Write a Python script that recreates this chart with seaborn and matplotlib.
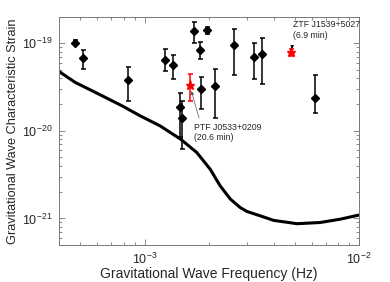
import matplotlib

matplotlib.use("Agg")
import matplotlib.pyplot as plt
import numpy as np
import pandas as pd
import seaborn as sns
from matplotlib.ticker import LogLocator, NullFormatter

# LISA-like sensitivity curve
curve_freq = [4.01e-4, 4.75e-4, 5.89e-4, 7.85e-4, 9.55e-4, 1.18e-3, 1.47e-3,
              1.75e-3, 2.02e-3, 2.25e-3, 2.51e-3, 2.79e-3, 3.0e-3, 3.58e-3,
              3.99e-3, 5.13e-3, 6.58e-3, 8.16e-3, 9.93e-3]
curve_strain = [4.72e-20, 3.57e-20, 2.75e-20, 1.93e-20, 1.48e-20, 1.14e-20,
                8.04e-21, 5.66e-21, 3.65e-21, 2.35e-21, 1.66e-21, 1.33e-21,
                1.2e-21, 1.04e-21, 9.5e-22, 8.7e-22, 8.98e-22, 9.8e-22,
                1.09e-21]

# known binaries (black diamonds)
src_freq = [4.74e-4, 5.17e-4, 8.40e-4, 1.25e-3, 1.36e-3, 1.46e-3, 1.49e-3,
            1.69e-3, 1.95e-3, 1.82e-3, 1.84e-3, 2.13e-3, 2.62e-3, 3.24e-3,
            3.53e-3, 6.24e-3]
src_strain = [1.02e-19, 6.82e-20, 3.83e-20, 6.43e-20, 5.68e-20, 1.85e-20,
              1.42e-20, 1.39e-19, 1.42e-19, 8.48e-20, 3.0e-20, 3.27e-20,
              9.46e-20, 6.95e-20, 7.46e-20, 2.37e-20]
src_hi = [1.08e-19, 8.43e-20, 5.38e-20, 8.59e-20, 7.39e-20, 2.67e-20,
          2.18e-20, 1.76e-19, 1.52e-19, 1.04e-19, 4.14e-20, 5.07e-20,
          1.45e-19, 1.0e-19, 1.15e-19, 4.34e-20]
src_lo = [9.7e-20, 5.07e-20, 2.17e-20, 4.85e-20, 3.90e-20, 8.47e-21,
          6.18e-21, 1.02e-19, 1.27e-19, 6.59e-20, 1.77e-20, 1.42e-20,
          4.37e-20, 3.90e-20, 3.42e-20, 1.62e-20]

# new eclipsing binaries (red)
new_names = ["PTF J0533+0209\n(20.6 min)", "ZTF J1539+5027\n(6.9 min)"]
new_freq = [1.62e-3, 4.82e-3]
new_strain = [3.33e-20, 7.87e-20]
new_hi = [4.48e-20, 8.59e-20]
new_lo = [2.20e-20, 7.2e-20]

x_major = [1e-3, 1e-2]
y_major = [1e-21, 1e-20, 1e-19]

sns.set_style("ticks")
plt.rcParams["font.family"] = ["Liberation Sans", "DejaVu Sans"]
plt.rcParams["mathtext.fontset"] = "custom"
plt.rcParams["mathtext.rm"] = "Liberation Sans"
plt.rcParams["mathtext.it"] = "Liberation Sans:italic"

fig, ax = plt.subplots(figsize=(3.9, 2.82), dpi=100)
fig.subplots_adjust(left=0.152, right=0.921, bottom=0.132, top=0.940)

curve = pd.DataFrame({"freq": curve_freq, "strain": curve_strain})
sns.lineplot(data=curve, x="freq", y="strain", color="black", lw=2.2,
             sort=False, estimator=None, ax=ax)

s = np.array(src_strain)
ax.errorbar(src_freq, s, yerr=[s - np.array(src_lo), np.array(src_hi) - s],
            fmt="D", color="black", ms=3.6, elinewidth=1.1, capsize=1.8,
            capthick=1.1)

n = np.array(new_strain)
ax.errorbar(new_freq, n, yerr=[n - np.array(new_lo), np.array(new_hi) - n],
            fmt="*", color="red", ms=6.5, elinewidth=1.1, capsize=1.8,
            capthick=1.1)

ax.set_xscale("log")
ax.set_yscale("log")
ax.set_xlim(4e-4, 1e-2)
ax.set_ylim(5e-22, 2e-19)
ax.set_xticks(x_major)
ax.set_yticks(y_major)
ax.xaxis.set_minor_locator(LogLocator(base=10, subs=np.arange(2, 10)))
ax.yaxis.set_minor_locator(LogLocator(base=10, subs=np.arange(2, 10)))
ax.xaxis.set_minor_formatter(NullFormatter())
ax.yaxis.set_minor_formatter(NullFormatter())

for side in ax.spines.values():
    side.set_color("#777777")
    side.set_linewidth(0.7)
ax.tick_params(which="both", direction="in", top=True, right=True,
               color="#777777", width=0.6, labelsize=9)
ax.tick_params(which="major", length=4, pad=5)
ax.tick_params(which="minor", length=2)

ax.set_xlabel("Gravitational Wave Frequency (Hz)", fontsize=10, labelpad=0)
ax.set_ylabel("Gravitational Wave Characteristic Strain", fontsize=9.2,
              labelpad=2)

# labels for the two new binaries
ax.annotate(new_names[0], xy=(new_freq[0], new_strain[0]),
            xytext=(3.4, -27), textcoords="offset points", ha="left",
            va="top", fontsize=6.3, linespacing=1.2,
            arrowprops=dict(arrowstyle="-|>", color="#555555", lw=0.5,
                            mutation_scale=5, shrinkA=1, shrinkB=4.5,
                            relpos=(0.09, 1.0)))
ax.annotate(new_names[1], xy=(new_freq[1], new_strain[1]),
            xytext=(1.4, 23), textcoords="offset points", ha="left",
            va="top", fontsize=6.3, linespacing=1.2,
            arrowprops=dict(arrowstyle="-|>", color="black", lw=0.5,
                            mutation_scale=5, shrinkA=1.5, shrinkB=2.5,
                            relpos=(0.0, 0.0)))

sns.despine(ax=ax, top=False, right=False)
fig.savefig("out.png", dpi=100)
